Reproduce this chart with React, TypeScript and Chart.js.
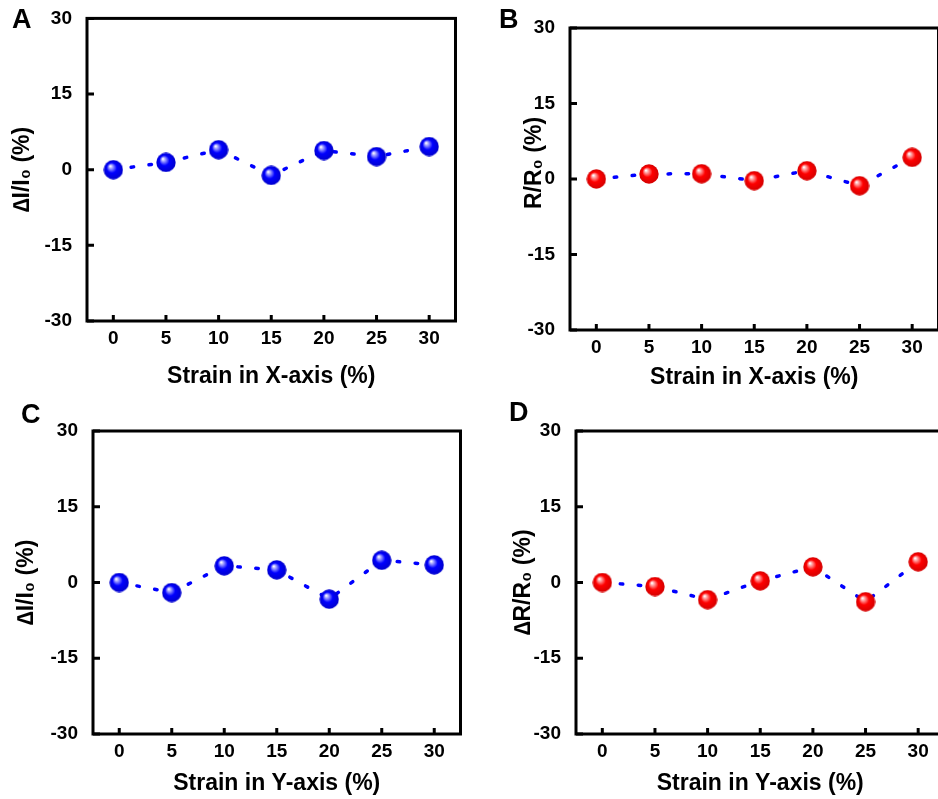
import React, { useEffect, useRef } from 'react';
import { Chart, registerables } from 'chart.js';

Chart.register(...registerables);

// ---- data ----
const strain = [0, 5, 10, 15, 20, 25, 30];
const xTickValues = [0, 5, 10, 15, 20, 25, 30];
const yTickValues = [-30, -15, 0, 15, 30];
const currentXAxis = [0, 1.45, 3.96, -1.13, 3.8, 2.6, 4.6];
const resistanceXAxis = [0, 1.0, 1.05, -0.33, 1.65, -1.33, 4.3];
const currentYAxis = [0, -2.0, 3.3, 2.5, -3.3, 4.4, 3.5];
const resistanceYAxis = [0, -0.8, -3.4, 0.33, 3.1, -3.8, 4.1];
const xTitleX = 'Strain in X-axis (%)';
const xTitleY = 'Strain in Y-axis (%)';
const yTitleCurrent = '\u2206I/I\u2080 (%)';
const yTitleResB = '     R/R\u2080 (%)';
const yTitleRes = '\u2206R/R\u2080 (%)';

const FONT = '"Liberation Sans", Arial, sans-serif';

function makeSphere(base: string, light: string, dark: string) {
  const size = 20;
  const c = document.createElement('canvas');
  c.width = size;
  c.height = size;
  const ctx = c.getContext('2d')!;
  const r = 9.7;
  const cx = size / 2;
  const cy = size / 2;
  const g = ctx.createRadialGradient(cx - r * 0.32, cy - r * 0.38, r * 0.04, cx, cy, r);
  g.addColorStop(0, '#ffffff');
  g.addColorStop(0.14, light);
  g.addColorStop(0.5, base);
  g.addColorStop(1, dark);
  ctx.fillStyle = g;
  ctx.beginPath();
  ctx.arc(cx, cy, r, 0, Math.PI * 2);
  ctx.fill();
  return c;
}

const framePlugin = {
  id: 'frameTicks',
  afterDatasetsDraw(chart: any) {
    const { ctx, chartArea } = chart;
    const xs = chart.scales.x;
    const ys = chart.scales.y;
    ctx.save();
    ctx.strokeStyle = '#000';
    ctx.lineWidth = 3;
    ctx.beginPath();
    xTickValues.forEach((v) => {
      const px = xs.getPixelForValue(v);
      ctx.moveTo(px, chartArea.bottom);
      ctx.lineTo(px, chartArea.bottom - 6);
    });
    yTickValues.forEach((v) => {
      const py = ys.getPixelForValue(v);
      ctx.moveTo(chartArea.left, py);
      ctx.lineTo(chartArea.left + 7, py);
    });
    ctx.stroke();
    ctx.lineWidth = 3;
    ctx.strokeRect(chartArea.left, chartArea.top, chartArea.right - chartArea.left, chartArea.bottom - chartArea.top);
    ctx.restore();
  },
};

type PanelProps = {
  left: number;
  top: number;
  width: number;
  height: number;
  padTop: number;
  padRight: number;
  yWidth: number;
  xHeight: number;
  yTitlePad: number;
  xTitlePad: number;
  xTickPad: number;
  values: number[];
  yTitle: string;
  xTitle: string;
  red: boolean;
};

function Panel(p: PanelProps) {
  const ref = useRef<HTMLCanvasElement | null>(null);
  useEffect(() => {
    const canvas = ref.current!;
    const sphere = p.red
      ? makeSphere('#ff0000', '#ffb0b0', '#d40000')
      : makeSphere('#0000ff', '#b0b0ff', '#0000cc');
    const chart = new Chart(canvas, {
      type: 'line',
      data: {
        datasets: [
          {
            data: strain.map((x, i) => ({ x, y: p.values[i] })),
            borderColor: '#0000ff',
            borderWidth: 3.5,
            borderDash: [2.5, 15.5],
            borderCapStyle: 'round',
            tension: 0,
            pointStyle: sphere as any,
            pointRadius: 10,
            clip: false as any,
          },
        ],
      },
      plugins: [framePlugin],
      options: {
        animation: false,
        responsive: false,
        maintainAspectRatio: false,
        devicePixelRatio: 1,
        layout: { padding: { top: p.padTop, right: p.padRight, left: 0, bottom: 0 } },
        plugins: { legend: { display: false }, tooltip: { enabled: false } },
        scales: {
          x: {
            type: 'linear',
            min: -2.5,
            max: 32.5,
            afterBuildTicks: (s: any) => {
              s.ticks = xTickValues.map((v) => ({ value: v }));
            },
            afterFit: (s: any) => {
              s.height = p.xHeight;
            },
            grid: { display: false },
            border: { display: false },
            ticks: {
              color: '#000',
              font: { family: FONT, size: 19, weight: 'bold' },
              padding: p.xTickPad,
              maxRotation: 0,
              autoSkip: false,
              callback: (v: any) => String(v),
            },
            title: {
              display: true,
              text: p.xTitle,
              color: '#000',
              font: { family: FONT, size: 23, weight: 'bold' },
              padding: { top: 0, bottom: p.xTitlePad },
            },
          },
          y: {
            type: 'linear',
            min: -30,
            max: 30,
            afterBuildTicks: (s: any) => {
              s.ticks = yTickValues.map((v) => ({ value: v }));
            },
            afterFit: (s: any) => {
              s.width = p.yWidth;
            },
            grid: { display: false },
            border: { display: false },
            ticks: {
              color: '#000',
              font: { family: FONT, size: 19, weight: 'bold' },
              padding: 7,
              autoSkip: false,
              callback: (v: any) => String(v),
            },
            title: {
              display: true,
              text: p.yTitle,
              color: '#000',
              font: { family: FONT, size: 23, weight: 'bold' },
              padding: { top: p.yTitlePad, bottom: 0 },
            },
          },
        },
      } as any,
    });
    return () => chart.destroy();
  }, []);
  return (
    <canvas
      ref={ref}
      width={p.width}
      height={p.height}
      style={{ position: 'absolute', left: p.left, top: p.top, width: p.width, height: p.height, display: 'block' }}
    />
  );
}

const letterStyle = (left: number, top: number): React.CSSProperties => ({
  position: 'absolute',
  left,
  top,
  fontFamily: FONT,
  fontWeight: 'bold',
  fontSize: 27,
  lineHeight: 1,
  color: '#000',
});

export default function App() {
  return (
    <div
      style={{
        position: 'fixed',
        left: 0,
        top: 0,
        width: 938,
        height: 799,
        overflow: 'hidden',
        background: '#fff',
      }}
    >
      <Panel left={0} top={0} width={469} height={400} padTop={18} padRight={10} yWidth={87} xHeight={79}
        yTitlePad={9.2} xTitlePad={9.2} xTickPad={-1.5} values={currentXAxis} yTitle={yTitleCurrent} xTitle={xTitleX} red={false} />
      <Panel left={500} top={0} width={452} height={402} padTop={28} padRight={10} yWidth={70} xHeight={72}
        yTitlePad={21.2} xTitlePad={10.2} xTickPad={-1.5} values={resistanceXAxis} yTitle={yTitleResB} xTitle={xTitleX} red={true} />
      <Panel left={0} top={400} width={474} height={405} padTop={31} padRight={10} yWidth={93} xHeight={71}
        yTitlePad={13.2} xTitlePad={7.5} xTickPad={-1.5} values={currentYAxis} yTitle={yTitleCurrent} xTitle={xTitleY} red={false} />
      <Panel left={500} top={400} width={458} height={405} padTop={31} padRight={10} yWidth={76} xHeight={71}
        yTitlePad={10.2} xTitlePad={7.5} xTickPad={-1.5} values={resistanceYAxis} yTitle={yTitleRes} xTitle={xTitleY} red={true} />
      <div style={letterStyle(12, 6)}>A</div>
      <div style={letterStyle(499, 6)}>B</div>
      <div style={letterStyle(21, 401)}>C</div>
      <div style={letterStyle(509, 399)}>D</div>
    </div>
  );
}
